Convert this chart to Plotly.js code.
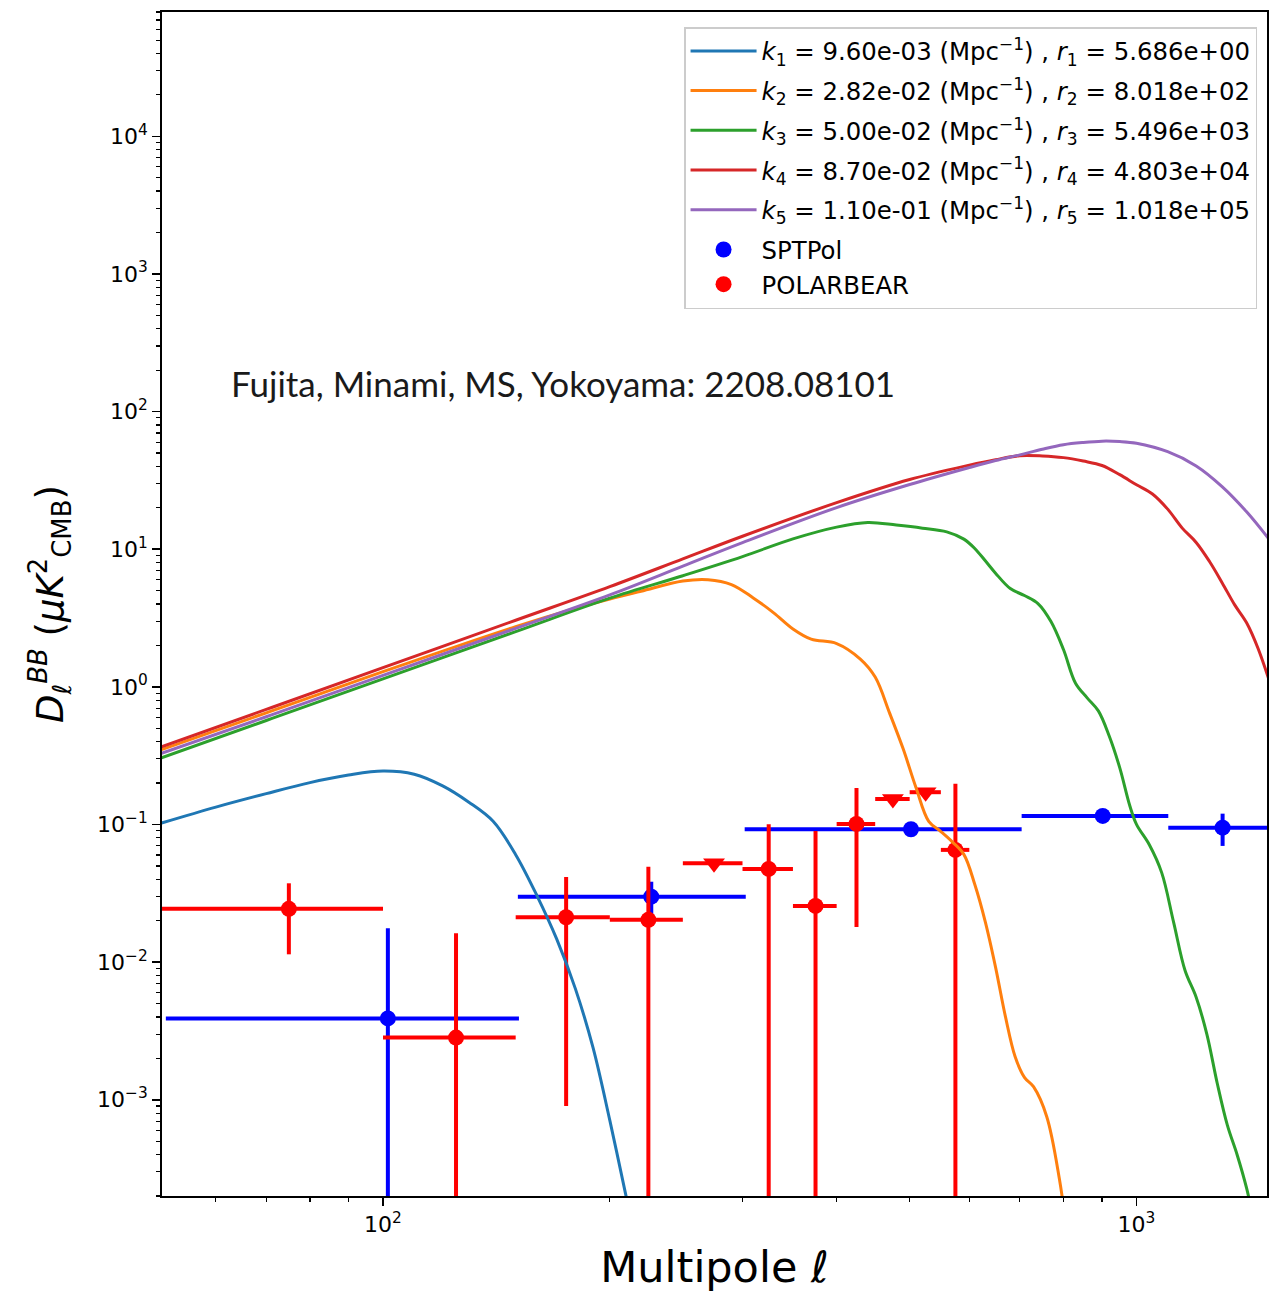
<!DOCTYPE html>
<html>
<head>
<meta charset="utf-8">
<script src="https://cdn.plot.ly/plotly-3.0.1.min.js"></script>
<style>html,body{margin:0;padding:0;background:#fff}#chart{width:1285px;height:1292px}</style>
</head>
<body>
<div id="chart"></div>
<script>
// ---------- model curves (multipole ell, D_ell^BB in muK^2) ----------
const ell_k1 = [50,60,70,80,90,100,110,120,130,140,150,160,170,180,190,200,210,220];
const D_k1   = [0.0998,0.1338,0.1677,0.2016,0.2286,0.2445,0.232,0.1908,0.1452,0.1055,0.0604,0.0306,0.01476,0.00642,0.00239,0.000708,0.000204,0.000063];

const ell_k2 = [50,70,100,150,180,200,220,250,270,290,310,330,350,370,400,430,450,470,490,510,530,550,570,590,610,630,650,670,690,710,730,760,790,810];
const D_k2   = [0.339,0.647,1.29,2.74,3.72,4.35,4.95,5.87,6.00,5.54,4.43,3.45,2.635,2.222,2.064,1.592,1.178,0.650,0.356,0.184,0.1055,0.0889,0.0745,0.0607,0.0368,0.0196,0.0092,0.00402,0.002065,0.001455,0.001245,0.000757,0.000267,0.00010];

const ell_k3 = [50,70,100,150,200,250,300,350,400,440,480,520,560,590,610,630,650,680,710,740,770,800,830,860,890,920,950,980,1000,1040,1080,1120,1160,1200,1240,1280,1320,1360,1400,1420];
const D_k3   = [0.296,0.570,1.143,2.518,4.41,6.42,8.84,11.88,14.47,15.63,14.97,14.23,13.38,11.84,10.13,8.24,6.70,5.18,4.61,4.03,2.98,1.867,1.062,0.832,0.669,0.4395,0.259,0.1363,0.1002,0.0712,0.0447,0.01954,0.0087,0.00556,0.00299,0.001314,0.000654,0.000399,0.000228,0.000161];

const ell_k4 = [50,70,100,150,200,250,300,400,500,600,650,700,750,800,850,900,950,1000,1050,1100,1150,1200,1250,1300,1350,1400,1450,1500];
const D_k4   = [0.3556,0.686,1.379,3.048,5.35,8.51,12.43,21.8,32.1,40.8,44.7,47.8,47.6,46.3,43.7,40.6,34.8,29.4,25.2,19.56,14.23,11.2,8.14,5.67,3.94,2.92,1.90,1.113];

const ell_k5 = [50,70,100,150,200,250,300,400,500,600,650,700,750,800,850,900,950,1000,1100,1200,1300,1400,1500];
const D_k5   = [0.3188,0.607,1.212,2.661,4.66,7.54,11.17,20.06,29.5,39.2,44.1,48.5,53.3,57.5,59.7,61.0,60.6,58.9,51.1,40.3,28.4,18.7,11.8];

const curveNames = [
  '<i>k</i><sub>1</sub> = 9.60e-03 (Mpc<sup>−1</sup>) , <i>r</i><sub>1</sub> = 5.686e+00',
  '<i>k</i><sub>2</sub> = 2.82e-02 (Mpc<sup>−1</sup>) , <i>r</i><sub>2</sub> = 8.018e+02',
  '<i>k</i><sub>3</sub> = 5.00e-02 (Mpc<sup>−1</sup>) , <i>r</i><sub>3</sub> = 5.496e+03',
  '<i>k</i><sub>4</sub> = 8.70e-02 (Mpc<sup>−1</sup>) , <i>r</i><sub>4</sub> = 4.803e+04',
  '<i>k</i><sub>5</sub> = 1.10e-01 (Mpc<sup>−1</sup>) , <i>r</i><sub>5</sub> = 1.018e+05'
];
const curveColors = ['#1f77b4','#ff7f0e','#2ca02c','#d62728','#9467bd'];

// ---------- SPTpol band powers ----------
const spt_ell    = [101.5, 227, 502, 902, 1301];
const spt_ell_lo = [50, 76, 200, 198, 199];
const spt_ell_hi = [50, 76, 202, 200, 199];
const spt_D      = [0.0039, 0.0299, 0.0924, 0.1155, 0.0949];
const spt_err    = [0.0137, 0.0085, 0.006, 0.008, 0.025];

// ---------- POLARBEAR band powers ----------
const pb_ell  = [75, 125, 175, 225, 325, 375, 425, 575];
const pb_dell = [25, 25, 25, 25, 25, 25, 25, 25];
const pb_D    = [0.0244, 0.00283, 0.0212, 0.0203, 0.0476, 0.0256, 0.101, 0.0654];
const pb_err  = [0.013, 0.0134, 0.0203, 0.029, 0.053, 0.064, 0.083, 0.132];

// POLARBEAR upper limits
const pbul_ell  = [275, 475, 525];
const pbul_dell = [25, 25, 25];
const pbul_D    = [0.0523, 0.1535, 0.1717];

// ---------- axis ticks ----------
const xTickVals = [100, 1000];
const xTickText = ['10<sup>2</sup>', '10<sup>3</sup>'];
const yTickVals = [1e-3, 1e-2, 1e-1, 1e0, 1e1, 1e2, 1e3, 1e4];
const yTickText = ['10<sup>−3</sup>','10<sup>−2</sup>','10<sup>−1</sup>','10<sup>0</sup>','10<sup>1</sup>','10<sup>2</sup>','10<sup>3</sup>','10<sup>4</sup>'];

function minorTicks(lo, hi) {
  const out = [];
  for (let e = lo; e <= hi; e++) {
    for (let m = 2; m <= 9; m++) out.push(m * Math.pow(10, e));
  }
  return out;
}

const ells = [ell_k1, ell_k2, ell_k3, ell_k4, ell_k5];
const Ds = [D_k1, D_k2, D_k3, D_k4, D_k5];

const traces = [];
// data first (drawn below curves)
traces.push({
  x: spt_ell, y: spt_D, type: 'scatter', mode: 'markers', name: 'SPTPol',
  legendrank: 6, legendgroup: 'data',
  marker: {color: '#0000ff', size: 16, symbol: 'circle'},
  error_x: {type: 'data', symmetric: false, array: spt_ell_hi, arrayminus: spt_ell_lo, color: '#0000ff', thickness: 4, width: 0},
  error_y: {type: 'data', array: spt_err, color: '#0000ff', thickness: 4, width: 0}
});
traces.push({
  x: pb_ell, y: pb_D, type: 'scatter', mode: 'markers', name: 'POLARBEAR',
  legendrank: 7, legendgroup: 'data',
  marker: {color: '#ff0000', size: 16, symbol: 'circle'},
  error_x: {type: 'data', array: pb_dell, color: '#ff0000', thickness: 4, width: 0},
  error_y: {type: 'data', array: pb_err, color: '#ff0000', thickness: 4, width: 0}
});
traces.push({
  x: pbul_ell, y: pbul_D, type: 'scatter', mode: 'markers', showlegend: false,
  marker: {color: '#ff0000', size: 19, symbol: 'triangle-down'},
  error_x: {type: 'data', array: pbul_dell, color: '#ff0000', thickness: 4, width: 0}
});
for (let i = 0; i < 5; i++) {
  traces.push({
    x: ells[i], y: Ds[i], type: 'scatter', mode: 'lines', name: curveNames[i],
    legendrank: i + 1, legendgroup: 'k' + (i + 1),
    line: {color: curveColors[i], width: 3, shape: 'spline', smoothing: 1}
  });
}

const tickFont = {family: 'DejaVu Sans', size: 22, color: '#000'};

const layout = {
  width: 1285, height: 1292,
  margin: {l: 162, r: 18, t: 12, b: 96},
  paper_bgcolor: '#fff', plot_bgcolor: '#fff',
  showlegend: true,
  xaxis: {
    type: 'log', range: [1.7067, 3.1732],
    tickmode: 'array', tickvals: xTickVals, ticktext: xTickText,
    ticks: 'outside', ticklen: 8, tickwidth: 1.5, tickcolor: '#000',
    showline: true, linecolor: '#000', linewidth: 1.8, mirror: true,
    showgrid: false, zeroline: false, tickfont: tickFont,
    minor: {tickmode: 'array', tickvals: minorTicks(1, 3), ticks: 'outside', ticklen: 4.5, tickwidth: 1.2, tickcolor: '#000', showgrid: false},
    title: {text: 'Multipole ℓ', font: {family: 'DejaVu Sans', size: 43, color: '#000'}, standoff: 20}
  },
  yaxis: {
    type: 'log', range: [Math.log10(2e-4), Math.log10(8e4)],
    tickmode: 'array', tickvals: yTickVals, ticktext: yTickText,
    ticks: 'outside', ticklen: 8, tickwidth: 1.5, tickcolor: '#000',
    showline: true, linecolor: '#000', linewidth: 1.8, mirror: true,
    showgrid: false, zeroline: false, tickfont: tickFont,
    minor: {tickmode: 'array', tickvals: minorTicks(-4, 4), ticks: 'outside', ticklen: 4.5, tickwidth: 1.2, tickcolor: '#000', showgrid: false},
    title: {text: '<i>D</i><sub><i>ℓ</i></sub><sup><i>BB</i></sup> (<i>μK</i><sup>2</sup><sub>CMB</sub>)', font: {family: 'DejaVu Sans', size: 37, color: '#000'}, standoff: 22}
  },
  legend: {
    x: 0.991, xanchor: 'right', y: 0.9873, yanchor: 'top',
    bgcolor: 'rgba(255,255,255,0.85)', bordercolor: '#cccccc', borderwidth: 1.5,
    font: {family: 'DejaVu Sans', size: 24.4, color: '#000'},
    tracegroupgap: 5, itemwidth: 66
  },
  annotations: [{
    xref: 'paper', yref: 'paper', x: 0.0606, y: 0.6868, xanchor: 'left', yanchor: 'middle',
    text: 'Fujita, Minami, MS, Yokoyama: 2208.08101', showarrow: false,
    font: {family: 'Lato', size: 35, color: '#1a1a1a'}
  }]
};

Plotly.newPlot('chart', traces, layout, {displayModeBar: false, staticPlot: true});
</script>
</body>
</html>
